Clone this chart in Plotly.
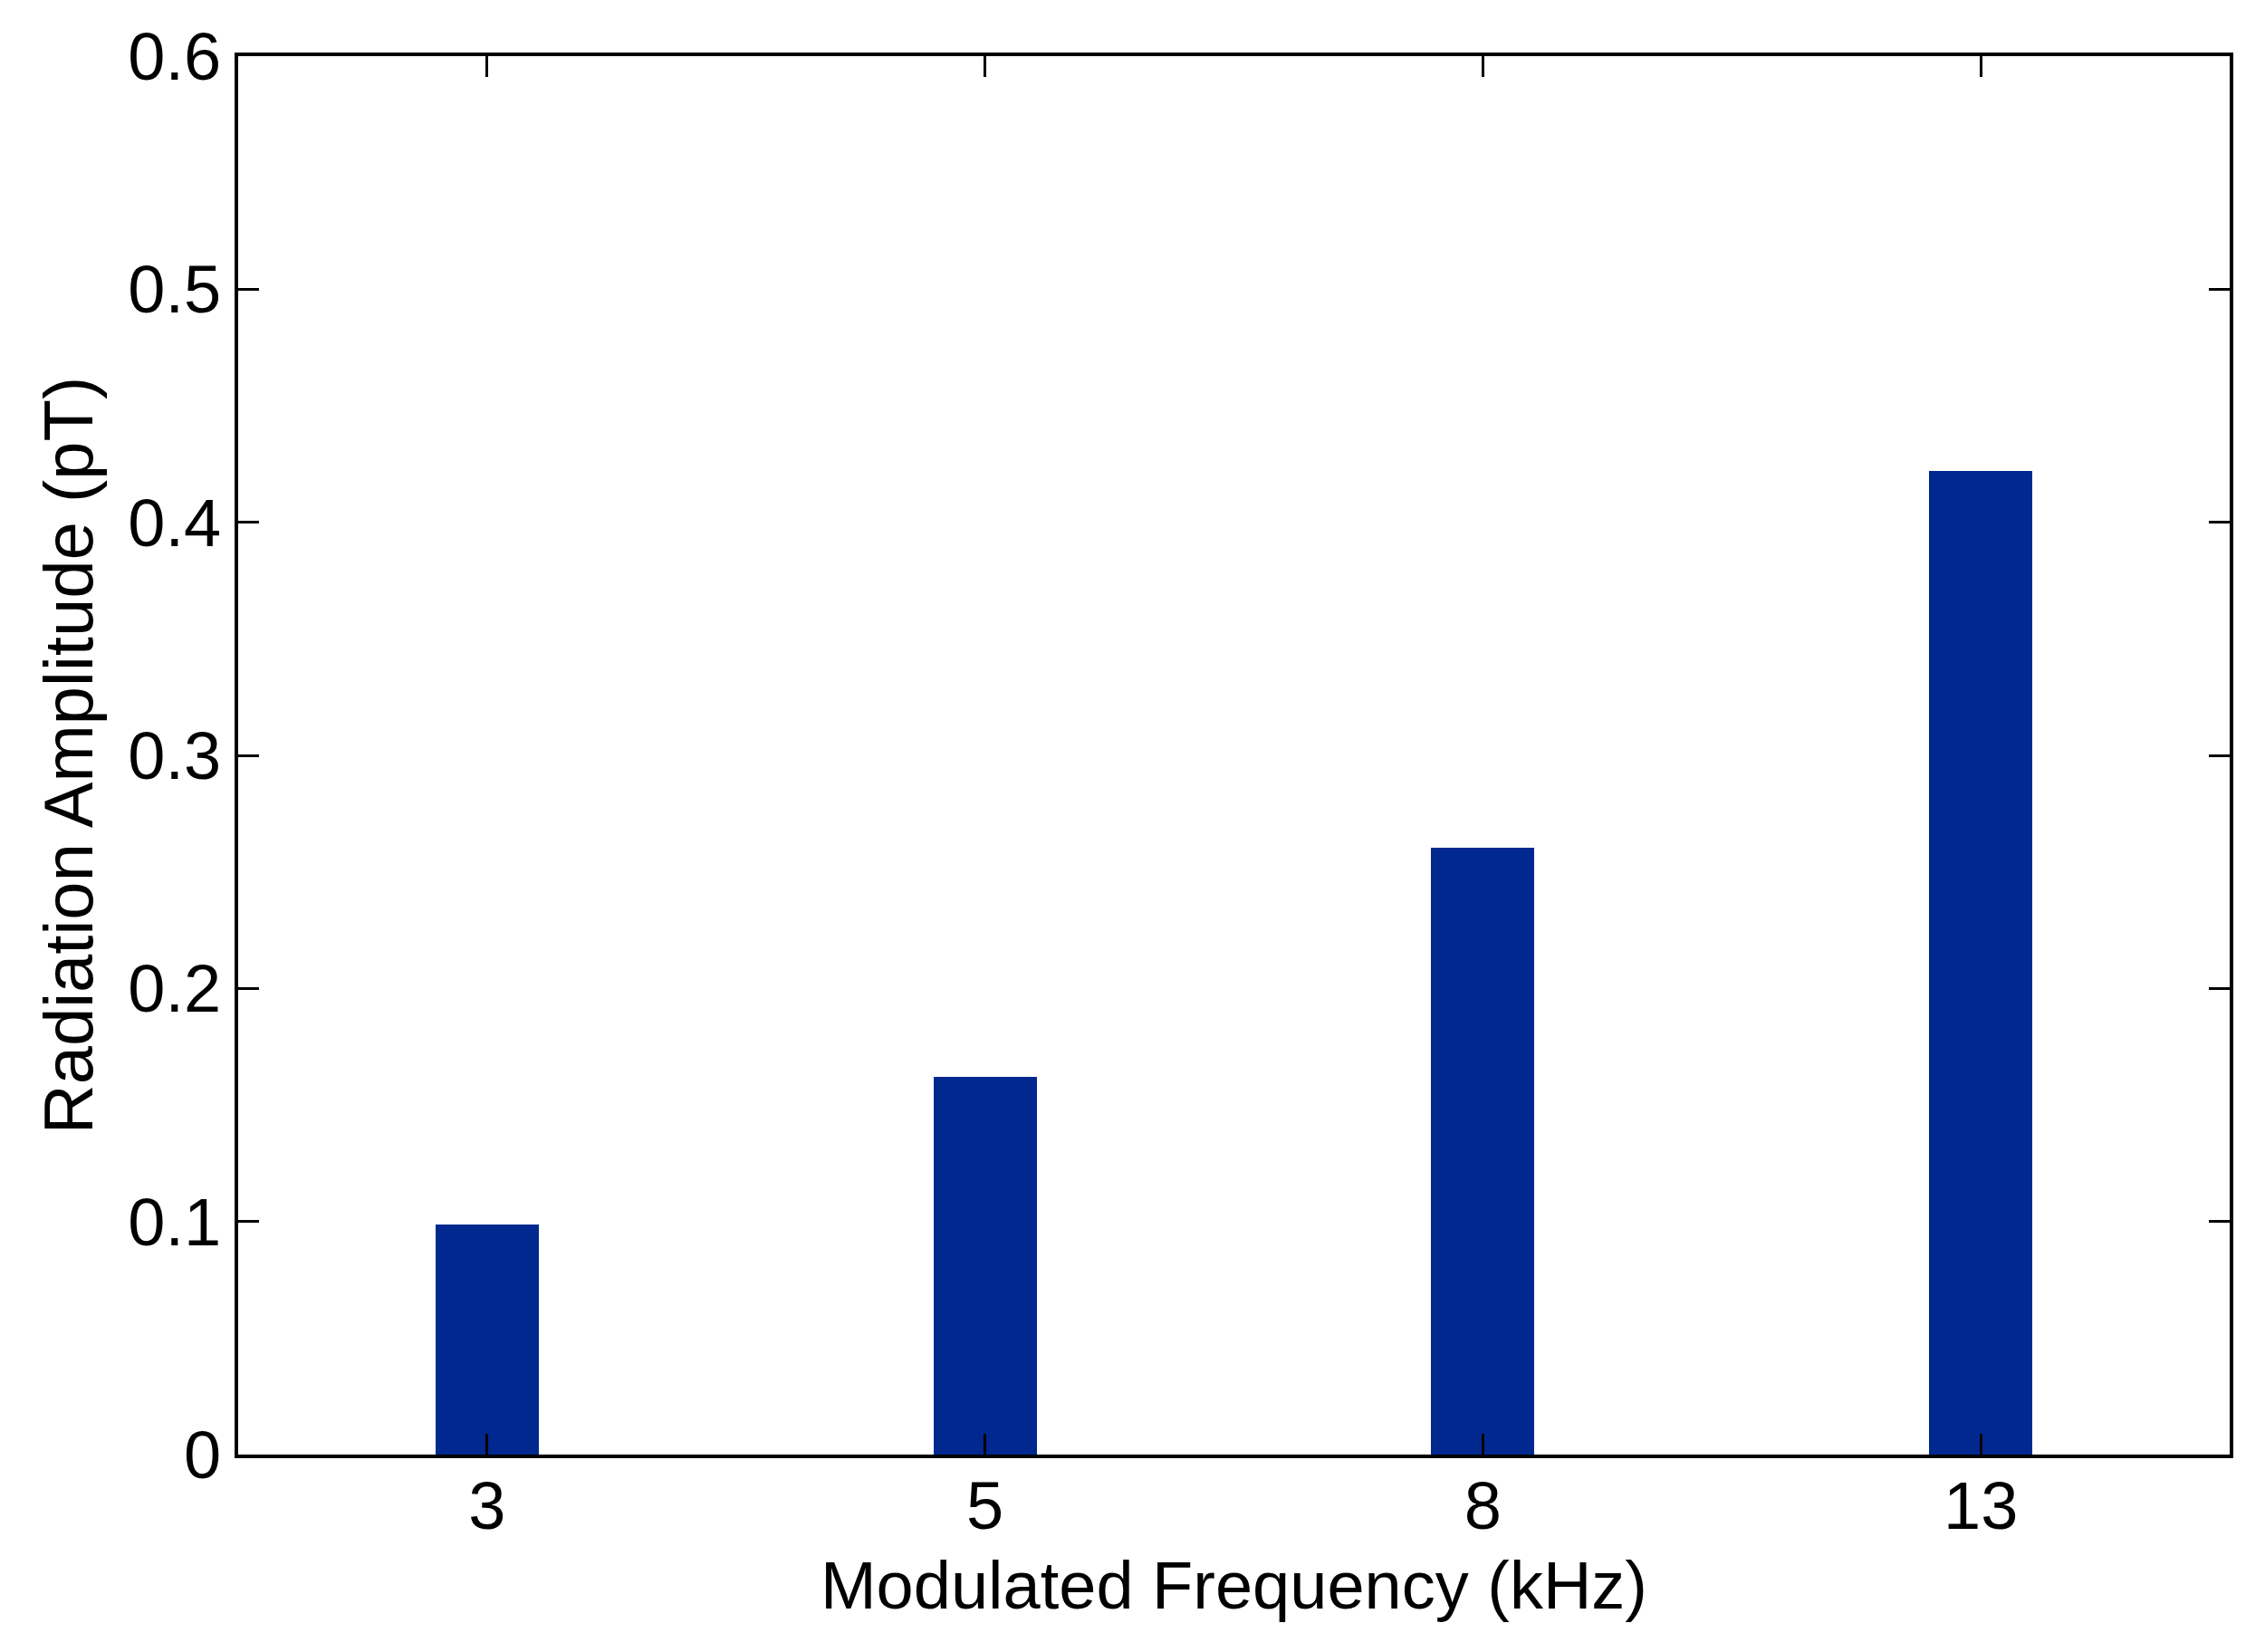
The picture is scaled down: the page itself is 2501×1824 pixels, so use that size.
import plotly.graph_objects as go

categories = ["3", "5", "8", "13"]
amplitude = [0.0986, 0.1622, 0.2604, 0.4219]
y_ticks = [0, 0.1, 0.2, 0.3, 0.4, 0.5, 0.6]
y_ticktext = ["0", "0.1", "0.2", "0.3", "0.4", "0.5", "0.6"]

FONT = "Liberation Sans, Arial, sans-serif"

fig = go.Figure()
fig.add_trace(go.Bar(
    x=categories,
    y=amplitude,
    width=0.207,
    marker=dict(color="rgb(0,40,142)", line=dict(width=0)),
    showlegend=False,
))

fig.update_layout(
    width=2493,
    height=1816,
    margin=dict(l=255, r=39, t=54, b=218, autoexpand=False),
    paper_bgcolor="white",
    plot_bgcolor="white",
    font=dict(family=FONT, size=74, color="black"),
    bargap=0,
)

fig.update_xaxes(
    type="category",
    range=[-0.5, 3.5],
    showline=True, linecolor="black", linewidth=4, mirror="ticks",
    ticks="inside", ticklen=23, tickwidth=3, tickcolor="black",
    showgrid=False, zeroline=False,
    tickfont=dict(family=FONT, size=74, color="black"),
    ticklabelstandoff=-11,
    title=dict(text="Modulated Frequency (kHz)", font=dict(family=FONT, size=74, color="black"), standoff=22),
    automargin=False,
)
fig.update_yaxes(
    range=[0, 0.6],
    tickvals=y_ticks, ticktext=y_ticktext,
    showline=True, linecolor="black", linewidth=4, mirror="ticks",
    ticks="inside", ticklen=23, tickwidth=3, tickcolor="black",
    showgrid=False, zeroline=False,
    tickfont=dict(family=FONT, size=74, color="black"),
    title=dict(text="Radiation Amplitude (pT)", font=dict(family=FONT, size=76, color="black"), standoff=15),
    automargin=False,
)

fig.write_html("out.html")
